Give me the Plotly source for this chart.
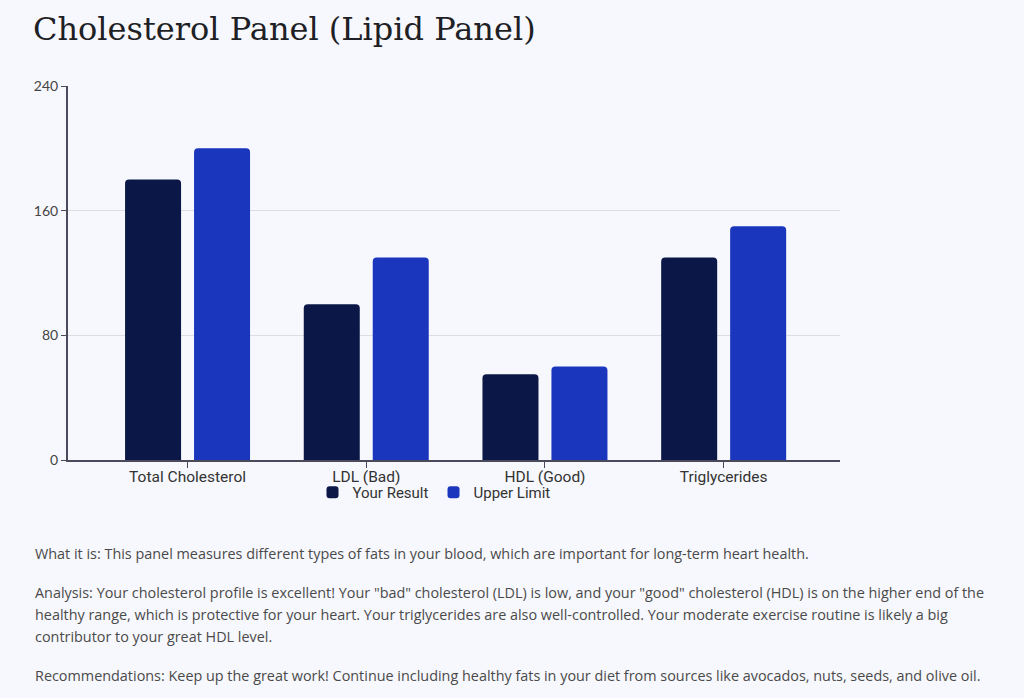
import plotly.graph_objects as go

categories = ["Total Cholesterol", "LDL (Bad)", "HDL (Good)", "Triglycerides"]
your_result = [180, 100, 55, 130]
upper_limit = [200, 130, 60, 150]
y_ticks = [0, 80, 160, 240]

title_text = "Cholesterol Panel (Lipid Panel)"
body_lines = [
    ("What it is: This panel measures different types of fats in your blood, which are important for long-term heart health.", 553),
    ("Analysis: Your cholesterol profile is excellent! Your \"bad\" cholesterol (LDL) is low, and your \"good\" cholesterol (HDL) is on the higher end of the", 592),
    ("healthy range, which is protective for your heart. Your triglycerides are also well-controlled. Your moderate exercise routine is likely a big", 614),
    ("contributor to your great HDL level.", 636),
    ("Recommendations: Keep up the great work! Continue including healthy fats in your diet from sources like avocados, nuts, seeds, and olive oil.", 675),
]

W, H = 1024, 698
L, R, T, B = 68, 840, 86, 460
BG = "#f7f8fd"

def px_x(px):
    return (px - L) / (R - L)

def px_y(py):
    return (B - py) / (B - T)

fig = go.Figure()
fig.add_trace(go.Bar(x=categories, y=your_result, name="Your Result",
                     marker=dict(color="#0b1746", line=dict(width=0))))
fig.add_trace(go.Bar(x=categories, y=upper_limit, name="Upper Limit",
                     marker=dict(color="#1a36bd", line=dict(width=0))))

annotations = [
    dict(text=title_text, xref="paper", yref="paper", x=px_x(31), y=px_y(29),
         xanchor="left", yanchor="middle", showarrow=False,
         font=dict(family="DejaVu Serif", size=32, color="#1f1f26")),
]
for txt, py in body_lines:
    annotations.append(dict(text=txt, xref="paper", yref="paper", x=px_x(33), y=px_y(py),
                            xanchor="left", yanchor="middle", showarrow=False,
                            font=dict(family="Open Sans", size=14.4, color="#4a4a4a")))

fig.update_layout(
    width=W, height=H,
    margin=dict(l=L, r=W - R, t=T, b=H - B, pad=0),
    paper_bgcolor=BG, plot_bgcolor=BG,
    barmode="group", bargap=0.228, bargroupgap=0.188, barcornerradius=4,
    showlegend=True,
    legend=dict(orientation="h", x=px_x(434), xanchor="center", y=px_y(476), yanchor="top",
                font=dict(family="Roboto", size=15, color="#333333"),
                bgcolor="rgba(0,0,0,0)", itemwidth=30, tracegroupgap=0),
    xaxis=dict(range=[-0.669, 3.651], showgrid=False, showline=True, linecolor="#4a4a5a", linewidth=2,
               ticks="outside", ticklen=6, tickcolor="#4a4a5a", tickwidth=1,
               ticklabelstandoff=-5,
               tickfont=dict(family="Roboto", size=15.5, color="#333333"), fixedrange=True),
    yaxis=dict(range=[0, 240], tickvals=y_ticks, showgrid=True, gridcolor="#dcdde3", gridwidth=1,
               showline=True, linecolor="#4a4a5a", linewidth=2, zeroline=False,
               ticks="outside", ticklen=5, tickcolor="#4a4a5a", tickwidth=1,
               tickfont=dict(family="Lato", size=14, color="#444444"), fixedrange=True),
    annotations=annotations,
    font=dict(family="Roboto"),
)

fig.write_html("out.html", config={"displayModeBar": False})
